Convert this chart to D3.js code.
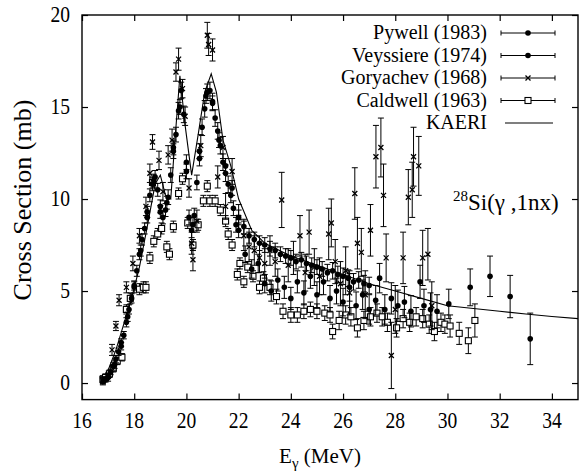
<!DOCTYPE html>
<html><head><meta charset="utf-8">
<script src="https://cdn.jsdelivr.net/npm/d3@7/dist/d3.min.js"></script>
<style>
html,body{margin:0;padding:0;background:#fff;}
svg{display:block;}
</style></head>
<body>
<svg id="c" width="582" height="474"></svg>
<script>
// ---- data ----
const xTicks = [16,18,20,22,24,26,28,30,32,34];
const yTicks = [0,5,10,15,20];
const legendLabels = ["Pywell (1983)","Veyssiere (1974)","Goryachev (1968)","Caldwell (1963)","KAERI"];

const pywellE = [17.0,17.25,17.5,17.75,18.0,18.25,18.5,18.75,19.0,19.25,19.5,19.75,20.0,20.25,20.5,20.75,21.0,21.25,21.5,21.75,22.0,22.25,22.5,22.75,23.0,23.25,23.5,23.75,24.0,24.25,24.5,24.75,25.0,25.25,25.5,25.75,26.0,26.25,26.5,26.75,27.0,27.25,27.4,27.6,27.85,28.1,28.35,28.6,28.95,29.1,29.35,29.6,30.05,30.87,31.63,32.4,33.17];
const pywellY = [0.3,1.0,2.0,3.6,5.2,7.2,9.0,11.0,9.3,9.8,12.8,15.0,11.5,8.6,12.2,15.6,15.2,13.2,11.8,10.6,8.3,7.0,6.2,6.5,5.4,5.0,5.6,5.2,4.6,5.5,4.9,5.8,4.8,5.5,4.6,5.0,4.4,5.2,4.2,4.8,4.0,4.5,5.7,4.0,4.6,4.2,4.4,3.9,5.5,4.2,4.0,3.9,4.3,5.2,5.8,4.7,2.4];
const pywellErr = [0.2,0.2,0.2,0.25,0.3,0.3,0.3,0.35,0.35,0.35,0.4,0.4,0.4,0.4,0.4,0.4,0.4,0.4,0.4,0.4,0.4,0.45,0.5,0.5,0.5,0.55,0.6,0.6,0.6,0.6,0.65,0.65,0.7,0.7,0.7,0.7,0.75,0.75,0.75,0.8,0.8,0.8,0.8,0.8,0.85,0.85,0.85,0.85,0.9,0.9,0.9,0.9,0.8,1.0,1.1,1.15,1.4];

const veyE = [16.8,16.9,17.0,17.1,17.2,17.3,17.4,17.5,17.6,17.7,17.8,17.9,18.0,18.1,18.2,18.3,18.4,18.5,18.6,18.7,18.8,18.9,19.0,19.1,19.2,19.3,19.4,19.5,19.6,19.7,19.8,19.9,20.0,20.1,20.2,20.3,20.4,20.5,20.6,20.7,20.8,20.9,21.0,21.1,21.2,21.3,21.4,21.5,21.6,21.7,21.8,21.9,22.0,22.2,22.4,22.6,22.8,23.0,23.2,23.4,23.6,23.8,24.0,24.2,24.4,24.6,24.8,25.0,25.2,25.4,25.6,25.8,26.0,26.2,26.4,26.6,26.8,27.0];
const veyY = [0.1,0.2,0.4,0.6,0.9,1.3,1.7,2.2,2.6,3.3,4.0,4.6,5.3,6.1,7.0,7.8,8.4,9.3,10.2,10.8,11.2,10.5,9.6,9.0,9.4,10.1,11.3,12.6,13.5,14.8,15.9,14.6,12.0,9.0,8.3,9.1,10.9,12.6,13.9,14.9,15.8,15.9,15.3,14.4,13.7,12.9,12.0,11.4,10.8,10.2,9.5,8.6,9.0,8.5,8.0,7.8,7.6,7.5,7.3,7.2,7.0,6.9,6.8,6.6,6.7,6.5,6.4,6.3,6.2,6.0,6.1,5.9,5.8,5.7,5.5,5.6,5.4,5.3];
const veyErr = [0.15,0.15,0.15,0.15,0.2,0.2,0.2,0.2,0.2,0.25,0.25,0.25,0.25,0.3,0.3,0.3,0.3,0.3,0.35,0.35,0.35,0.35,0.35,0.35,0.35,0.4,0.4,0.4,0.4,0.45,0.45,0.45,0.4,0.4,0.4,0.4,0.4,0.4,0.45,0.45,0.45,0.45,0.45,0.45,0.45,0.45,0.45,0.45,0.45,0.4,0.4,0.4,0.4,0.4,0.4,0.4,0.4,0.4,0.4,0.4,0.4,0.4,0.4,0.4,0.4,0.4,0.4,0.4,0.4,0.45,0.45,0.45,0.45,0.45,0.45,0.45,0.45,0.45];

const goryE = [16.8,17.15,17.3,17.42,17.7,17.95,18.2,18.45,18.6,18.7,18.95,19.1,19.3,19.45,19.6,19.7,19.85,19.95,20.1,20.2,20.25,20.4,20.55,20.8,20.85,21.0,21.2,21.4,21.5,21.75,22.0,22.2,22.4,22.6,22.8,23.0,23.2,23.4,23.65,23.9,24.1,24.35,24.55,24.7,24.9,25.1,25.45,25.55,25.7,25.9,26.1,26.25,26.45,26.55,26.7,26.85,27.05,27.26,27.45,27.55,27.65,27.85,28.0,28.3,28.5,28.65,28.7,28.9,29.05,29.25,29.4];
const goryY = [0.1,1.8,3.1,4.5,5.2,6.5,8.0,9.6,11.4,13.1,12.1,10.4,12.4,13.2,16.9,17.6,16.0,14.5,10.6,7.6,6.7,8.8,12.9,18.9,18.4,18.1,11.2,12.8,9.6,11.5,9.0,8.0,7.4,7.2,6.8,6.5,7.2,6.6,9.95,6.4,6.8,8.0,6.0,8.2,6.3,5.8,8.1,8.7,6.6,5.4,6.1,4.9,10.3,7.6,7.1,4.8,8.3,12.3,12.8,10.2,6.8,1.5,4.0,6.8,10.1,10.5,12.3,11.8,6.8,7.0,4.2];
const goryErr = [0.2,0.3,0.25,0.3,0.3,0.4,0.4,0.5,0.5,0.4,0.5,0.5,0.5,0.6,0.5,0.6,0.5,0.5,0.5,0.6,0.6,0.6,0.6,0.7,0.6,0.6,0.6,0.6,0.7,0.7,0.7,0.8,0.8,0.8,0.8,0.8,0.8,0.8,1.5,0.9,0.9,1.1,1.0,1.2,1.0,1.0,1.4,1.3,1.2,1.2,1.3,1.2,1.4,1.4,1.3,1.3,1.4,1.7,1.6,1.7,1.3,1.8,1.3,1.4,1.5,1.5,1.6,1.6,1.5,1.4,1.3];

const caldE = [16.8,16.9,17.05,17.2,17.35,17.53,17.7,17.85,18.2,18.35,18.45,18.6,18.7,18.75,18.9,19.05,19.25,19.35,19.5,19.7,19.85,20.05,20.25,20.45,20.65,20.8,20.9,21.1,21.3,21.5,21.6,21.75,21.95,22.05,22.2,22.35,22.55,22.8,22.95,23.2,23.45,23.7,24.0,24.25,24.5,24.75,25.0,25.3,25.5,25.6,25.85,26.1,26.3,26.55,26.8,27.05,27.3,27.5,27.7,28.05,28.3,28.55,28.8,29.05,29.3,29.5,29.75,29.9,30.1,30.45,30.8,31.05];
const caldY = [0.2,0.3,0.5,0.8,1.2,1.4,4.0,4.6,5.1,5.2,5.2,6.8,10.9,7.7,8.1,8.4,7.4,7.0,8.5,10.3,11.1,8.7,7.5,8.6,9.9,10.7,9.9,9.9,9.4,8.8,8.1,7.5,5.9,6.5,5.5,6.3,5.8,5.2,5.7,5.2,4.7,3.9,3.7,3.7,3.9,4.0,3.9,3.8,3.7,2.8,3.4,3.7,3.6,3.0,3.4,3.6,3.8,3.6,3.3,3.0,3.5,3.3,3.6,3.5,3.2,2.8,3.3,3.2,3.1,2.7,2.3,3.4];
const caldErr = [0.2,0.2,0.2,0.2,0.2,0.2,0.25,0.3,0.3,0.3,0.3,0.3,0.3,0.3,0.3,0.3,0.3,0.3,0.3,0.3,0.3,0.3,0.3,0.3,0.3,0.3,0.3,0.3,0.3,0.3,0.3,0.3,0.3,0.3,0.3,0.3,0.3,0.35,0.35,0.4,0.4,0.4,0.4,0.4,0.4,0.4,0.4,0.4,0.4,0.4,0.5,0.5,0.5,0.5,0.5,0.5,0.5,0.5,0.5,0.5,0.5,0.5,0.5,0.5,0.5,0.5,0.5,0.5,0.6,0.6,0.7,0.9];

const kaeriE = [16.7,17.0,17.3,17.6,17.9,18.2,18.5,18.8,19.0,19.2,19.4,19.55,19.75,19.95,20.2,20.45,20.7,20.95,21.15,21.4,21.7,22.0,22.5,23.0,24.0,25.0,26.0,27.0,28.0,29.0,30.0,31.0,32.0,33.0,34.0,35.0];
const kaeriY = [0.0,0.7,1.8,3.2,4.6,6.3,8.5,10.8,11.3,10.2,10.0,13.0,16.7,14.0,11.3,13.5,15.8,16.8,15.8,13.2,11.8,10.0,8.3,7.6,6.9,6.4,5.9,5.4,5.0,4.6,4.2,4.05,3.9,3.75,3.62,3.5];

// ---- layout ----
const L = 82, R = 578, T = 15, B = 399.6;
const FONT = "Liberation Serif";
const svg = d3.select("#c");
const x = d3.scaleLinear().domain([16,35]).range([L,R]);
const y = d3.scaleLinear().domain([-0.9,20]).range([B,T]);

// frame
svg.append("rect").attr("x",L).attr("y",T).attr("width",R-L).attr("height",B-T)
  .attr("fill","none").attr("stroke","#000").attr("stroke-width",1.4);

// axes with inward ticks
const axB = svg.append("g").attr("transform",`translate(0,${B})`)
  .call(d3.axisBottom(x).tickValues(xTicks).tickSize(-6).tickFormat(""));
const axT = svg.append("g").attr("transform",`translate(0,${T})`)
  .call(d3.axisTop(x).tickValues(xTicks).tickSize(-6).tickFormat(""));
const axL = svg.append("g").attr("transform",`translate(${L},0)`)
  .call(d3.axisLeft(y).tickValues(yTicks).tickSize(-6).tickFormat(""));
const axR = svg.append("g").attr("transform",`translate(${R},0)`)
  .call(d3.axisRight(y).tickValues(yTicks).tickSize(-6).tickFormat(""));
[axB,axT,axL,axR].forEach(a=>{a.select(".domain").remove(); a.selectAll("line").attr("stroke","#000").attr("stroke-width",1.2);});

function txt(sel){ return sel.append("text").attr("font-family",FONT).attr("fill","#000"); }

// tick labels
const sx = 0.85;
const gx = svg.append("g");
xTicks.forEach(d=>{
  txt(gx).attr("transform",`translate(${x(d)},428) scale(${sx},1)`)
    .attr("text-anchor","middle").attr("font-size",23).text(d);
});
const gy = svg.append("g");
yTicks.forEach(d=>{
  txt(gy).attr("transform",`translate(70,${y(d)+7}) scale(${sx},1)`)
    .attr("text-anchor","end").attr("font-size",23).text(d);
});

// axis titles
txt(svg).attr("transform","translate(31,200) rotate(-90)")
  .attr("text-anchor","middle").attr("font-size",26).text("Cross Section (mb)");
const xt = txt(svg).attr("x",320).attr("y",463).attr("text-anchor","middle").attr("font-size",21);
xt.append("tspan").text("E");
xt.append("tspan").attr("font-size",15).attr("dy",5).text("γ");
xt.append("tspan").attr("dy",-5).text(" (MeV)");

// reaction label
const rl = txt(svg).attr("x",453).attr("y",210).attr("font-size",23);
rl.append("tspan").attr("font-size",15).attr("dy",-9).text("28");
rl.append("tspan").attr("dy",9).text("Si(γ ,1nx)");

// KAERI line
const kaeri = kaeriE.map((e,i)=>[e,kaeriY[i]]);
svg.append("path").datum(kaeri)
  .attr("d",d3.line().x(d=>x(d[0])).y(d=>y(d[1])))
  .attr("fill","none").attr("stroke","#000").attr("stroke-width",1.1);

// series drawing
function series(E,Y,Er,marker){
  const data = E.map((e,i)=>({e, v:Y[i], er:Er[i]}));
  const g = svg.append("g");
  const cap = 3;
  g.selectAll(".eb").data(data).join("path")
    .attr("d",d=>{
      const px=x(d.e), y1=y(d.v+d.er), y2=y(d.v-d.er);
      return `M${px},${y1}V${y2}M${px-cap},${y1}H${px+cap}M${px-cap},${y2}H${px+cap}`;
    })
    .attr("stroke","#000").attr("stroke-width",1).attr("fill","none");
  drawMarkers(g,data.map(d=>[x(d.e),y(d.v)]),marker);
}
function drawMarkers(g,pts,marker){
  if(marker==="circle"){
    g.selectAll(".m").data(pts).join("circle").attr("cx",d=>d[0]).attr("cy",d=>d[1]).attr("r",2.8).attr("fill","#000");
  } else if(marker==="cross"){
    g.selectAll(".m").data(pts).join("path")
      .attr("d",d=>`M${d[0]-2.5},${d[1]-2.5}L${d[0]+2.5},${d[1]+2.5}M${d[0]-2.5},${d[1]+2.5}L${d[0]+2.5},${d[1]-2.5}`)
      .attr("stroke","#000").attr("stroke-width",1.3);
  } else if(marker==="square"){
    g.selectAll(".m").data(pts).join("rect").attr("x",d=>d[0]-3).attr("y",d=>d[1]-3)
      .attr("width",6).attr("height",6).attr("fill","#fff").attr("stroke","#000").attr("stroke-width",1.1);
  }
}
series(caldE,caldY,caldErr,"square");
series(goryE,goryY,goryErr,"cross");
series(veyE,veyY,veyErr,"circle");
series(pywellE,pywellY,pywellErr,"circle");

// legend
const markers = ["circle","circle","cross","square","line"];
const lg = svg.append("g");
legendLabels.forEach((lab,i)=>{
  const cy = 33 + i*22.5;
  txt(lg).attr("x",487).attr("y",cy+6).attr("text-anchor","end").attr("font-size",20).text(lab);
  if(markers[i]==="line"){
    lg.append("path").attr("d",`M505,${cy}H553`).attr("stroke","#000").attr("stroke-width",1.1);
  } else {
    lg.append("path").attr("d",`M501,${cy}H555M501,${cy-2.5}V${cy+2.5}M555,${cy-2.5}V${cy+2.5}`)
      .attr("stroke","#000").attr("stroke-width",1).attr("fill","none");
    drawMarkers(lg.append("g"),[[528,cy]],markers[i]);
  }
});
</script>
</body></html>
